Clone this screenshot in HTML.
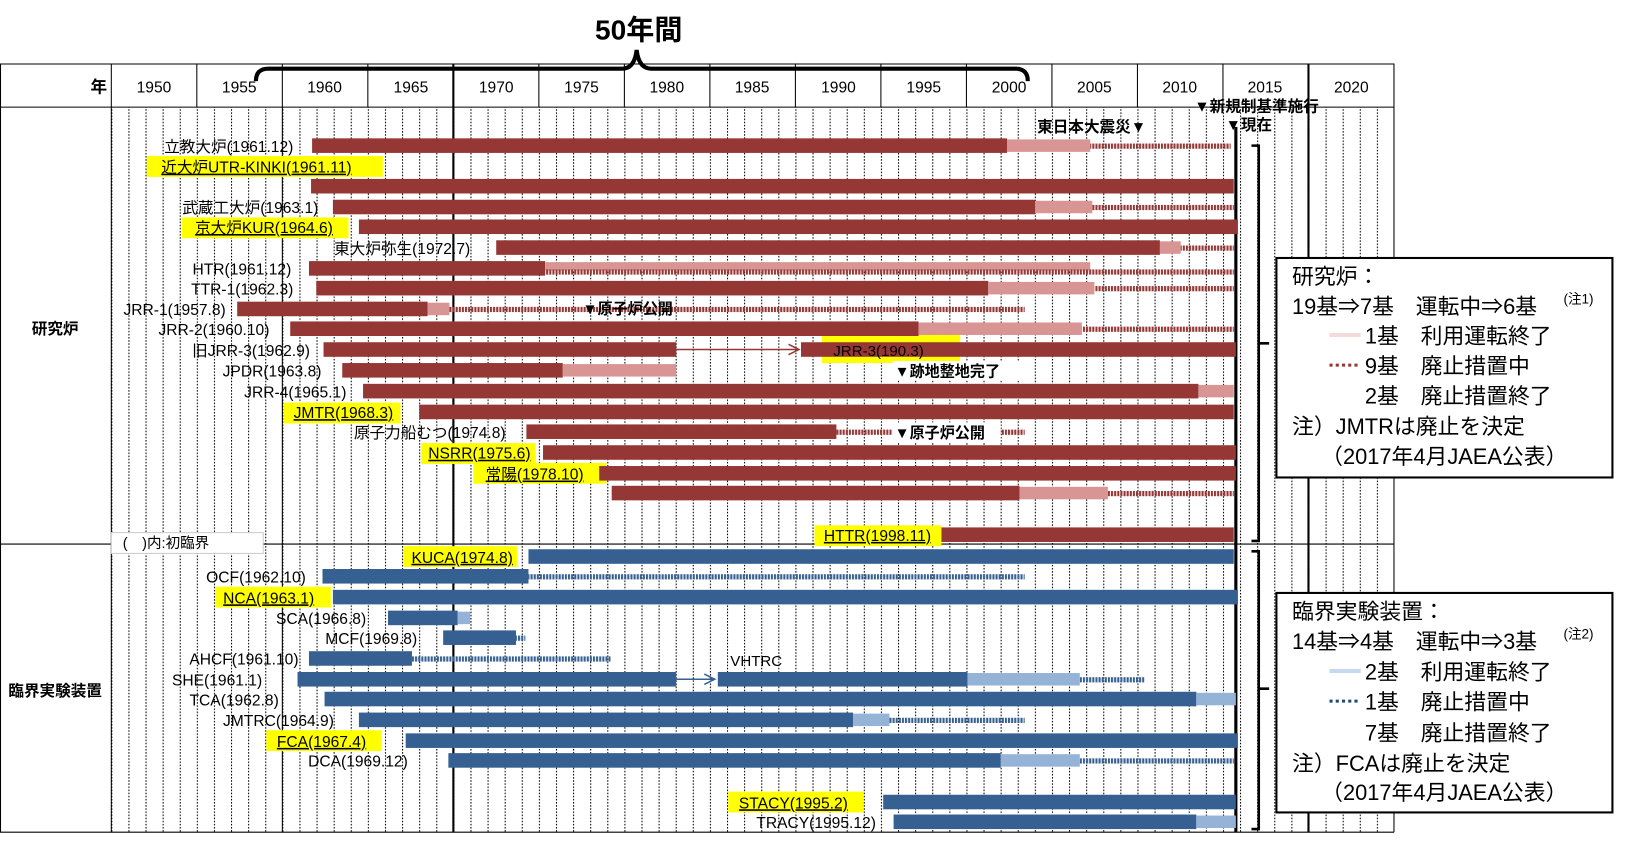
<!DOCTYPE html>
<html><head><meta charset="utf-8"><style>
body{margin:0;background:#fff}
svg{display:block}
text{font-family:"Liberation Sans","Noto Sans CJK JP",sans-serif;fill:#000}
.l{font-size:15px;text-anchor:end}
.y{font-size:15px;text-anchor:middle}
.g{font-size:21px}
</style></head><body>
<svg width="1627" height="853" viewBox="0 0 1564 820" preserveAspectRatio="none" xmlns="http://www.w3.org/2000/svg">
<defs>
<pattern id="grid" patternUnits="userSpaceOnUse" x="107" y="0" width="16.44" height="3"><rect x="0" y="0" width="1" height="1.5" fill="#000"/></pattern>
<pattern id="dr" patternUnits="userSpaceOnUse" x="0" y="0" width="3" height="10"><rect x="0" y="0" width="2" height="10" fill="#953735"/></pattern>
<pattern id="db" patternUnits="userSpaceOnUse" x="0" y="0" width="3" height="10"><rect x="0" y="0" width="2" height="10" fill="#376092"/></pattern>
</defs>
<text x="614" y="38" font-size="27" font-weight="bold" text-anchor="middle">50年間</text>
<path d="M246,78 Q246,66 258,66 L598,66 Q610,66 612,48 Q614,66 626,66 L976,66 Q988,66 988,78" fill="none" stroke="#000" stroke-width="4"/>
<rect x="107" y="103" width="1233" height="697" fill="url(#grid)"/>
<g stroke="#000" stroke-width="1">
<line x1="189.2" y1="61" x2="189.2" y2="103"/><line x1="271.4" y1="61" x2="271.4" y2="800"/><line x1="353.6" y1="61" x2="353.6" y2="103"/>
<line x1="518" y1="61" x2="518" y2="103"/><line x1="600.2" y1="61" x2="600.2" y2="103"/><line x1="682.4" y1="61" x2="682.4" y2="103"/>
<line x1="764.6" y1="61" x2="764.6" y2="103"/><line x1="846.8" y1="61" x2="846.8" y2="103"/><line x1="929" y1="61" x2="929" y2="103"/>
<line x1="1011.2" y1="61" x2="1011.2" y2="103"/><line x1="1093.4" y1="61" x2="1093.4" y2="103"/><line x1="1175.6" y1="61" x2="1175.6" y2="103"/>
<line x1="0.5" y1="61" x2="0.5" y2="800"/><line x1="107" y1="61" x2="107" y2="800"/><line x1="1340" y1="61" x2="1340" y2="800"/>
<line x1="0" y1="61.5" x2="1340" y2="61.5"/><line x1="0" y1="103" x2="1340" y2="103"/><line x1="0" y1="523" x2="1340" y2="523"/><line x1="0" y1="800" x2="1340" y2="800"/>
</g>
<line x1="435.8" y1="61" x2="435.8" y2="800" stroke="#000" stroke-width="2"/>
<line x1="1257.8" y1="61" x2="1257.8" y2="800" stroke="#000" stroke-width="2"/>
<text x="103" y="89" font-size="16" font-weight="bold" text-anchor="end">年</text>
<text class="y" x="148" y="89">1950</text><text class="y" x="230" y="89">1955</text><text class="y" x="312" y="89">1960</text><text class="y" x="395" y="89">1965</text><text class="y" x="477" y="89">1970</text><text class="y" x="559" y="89">1975</text><text class="y" x="641" y="89">1980</text><text class="y" x="723" y="89">1985</text><text class="y" x="806" y="89">1990</text><text class="y" x="888" y="89">1995</text><text class="y" x="970" y="89">2000</text><text class="y" x="1052" y="89">2005</text><text class="y" x="1134" y="89">2010</text><text class="y" x="1216" y="89">2015</text><text class="y" x="1299" y="89">2020</text>
<text x="53" y="321" font-size="15" font-weight="bold" text-anchor="middle">研究炉</text>
<text x="53" y="669" font-size="15" font-weight="bold" text-anchor="middle">臨界実験装置</text>
<text x="1148" y="107" font-size="15" font-weight="bold">▼新規制基準施行</text>
<text x="1178" y="125" font-size="15" font-weight="bold">▼現在</text>
<text x="997" y="127" font-size="15" font-weight="bold">東日本大震災▼</text>
<line x1="1188" y1="122" x2="1188" y2="800" stroke="#000" stroke-width="3"/>
<g fill="#ffff00">
<rect x="141" y="150" width="227" height="20"/><rect x="175" y="209" width="160" height="20"/><rect x="273" y="387" width="112" height="20"/>
<rect x="405" y="426" width="110" height="20"/><rect x="455" y="445" width="128" height="20"/><rect x="783" y="505" width="122" height="20"/>
<rect x="790" y="322" width="133" height="27"/>
<rect x="388" y="525" width="109" height="20"/><rect x="207" y="564" width="111" height="20"/><rect x="256" y="702" width="111" height="20"/><rect x="700" y="761" width="130" height="20"/>
</g>
<rect x="107" y="512" width="146" height="20" fill="#fff" stroke="#ccc"/>
<text x="118" y="527" font-size="14">(　)内:初臨界</text>
<g fill="#953735">
<rect x="300" y="133" width="668" height="14"/><rect x="299" y="172" width="887" height="14"/><rect x="320" y="192" width="675" height="14"/>
<rect x="345" y="211" width="845" height="14"/><rect x="477" y="231" width="638" height="14"/><rect x="297" y="251" width="227" height="14"/>
<rect x="304" y="270" width="646" height="14"/><rect x="228" y="290" width="183" height="14"/><rect x="279" y="309" width="604" height="14"/>
<rect x="311" y="329" width="339" height="14"/><rect x="770" y="329" width="418" height="14"/><rect x="329" y="349" width="212" height="14"/>
<rect x="349" y="369" width="803" height="14"/><rect x="403" y="389" width="783" height="14"/><rect x="506" y="408" width="298" height="14"/>
<rect x="522" y="428" width="666" height="14"/><rect x="576" y="448" width="612" height="14"/><rect x="588" y="467" width="392" height="14"/>
<rect x="905" y="507" width="281" height="14"/>
</g>
<g fill="#d99594">
<rect x="968" y="134" width="80" height="12"/><rect x="995" y="193" width="55" height="12"/><rect x="1115" y="232" width="20" height="12"/>
<rect x="524" y="252" width="524" height="8"/><rect x="950" y="271" width="102" height="12"/><rect x="411" y="291" width="21" height="12"/>
<rect x="883" y="310" width="157" height="12"/><rect x="541" y="350" width="109" height="12"/><rect x="1152" y="370" width="34" height="12"/>
<rect x="980" y="468" width="85" height="12"/>
</g>
<g fill="url(#dr)">
<rect x="1048" y="138" width="135" height="5"/><rect x="1050" y="197" width="136" height="5"/><rect x="1135" y="236" width="51" height="5"/>
<rect x="524" y="259" width="662" height="5"/><rect x="1052" y="275" width="134" height="5"/><rect x="432" y="295" width="553" height="5"/>
<rect x="1040" y="314" width="146" height="5"/><rect x="804" y="413" width="181" height="5"/><rect x="1065" y="472" width="121" height="5"/>
</g>
<line x1="650" y1="336" x2="768" y2="336" stroke="#953735" stroke-width="1.5"/><path d="M758,331 L768,336 L758,341" fill="none" stroke="#953735" stroke-width="1.5"/>
<text x="801" y="342" font-size="14.5" fill="#333">JRR-3(190.3)</text>
<rect x="858" y="347" width="132" height="19" fill="#fff"/>
<text x="860" y="362" font-size="14.5" font-weight="bold">▼跡地整地完了</text>
<text x="560" y="302" font-size="14.5" font-weight="bold">▼原子炉公開</text>
<rect x="858" y="406" width="104" height="19" fill="#fff"/>
<text x="860" y="421" font-size="14.5" font-weight="bold">▼原子炉公開</text>
<g>
<text class="l" x="282" y="146">立教大炉(1961.12)</text>
<text class="l" x="338" y="166" text-decoration="underline">近大炉UTR-KINKI(1961.11)</text>
<text class="l" x="306" y="205">武蔵工大炉(1963.1)</text>
<text class="l" x="320" y="224" text-decoration="underline">京大炉KUR(1964.6)</text>
<text class="l" x="452" y="244">東大炉弥生(1972.7)</text>
<text class="l" x="280" y="264">HTR(1961.12)</text>
<text class="l" x="282" y="283">TTR-1(1962.3)</text>
<text class="l" x="217" y="303">JRR-1(1957.8)</text>
<text class="l" x="259" y="322">JRR-2(1960.10)</text>
<text class="l" x="298" y="342">旧JRR-3(1962.9)</text>
<text class="l" x="309" y="362">JPDR(1963.8)</text>
<text class="l" x="333" y="382">JRR-4(1965.1)</text>
<text class="l" x="378" y="402" text-decoration="underline">JMTR(1968.3)</text>
<text class="l" x="486" y="421">原子力船むつ(1974.8)</text>
<text class="l" x="510" y="441" text-decoration="underline">NSRR(1975.6)</text>
<text class="l" x="561" y="461" text-decoration="underline">常陽(1978.10)</text>
<text class="l" x="895" y="520" text-decoration="underline">HTTR(1998.11)</text>
</g>
<g fill="#376092">
<rect x="508" y="528" width="678" height="14"/><rect x="310" y="547" width="198" height="14"/><rect x="320" y="567" width="870" height="14"/>
<rect x="373" y="587" width="67" height="14"/><rect x="426" y="606" width="70" height="14"/><rect x="297" y="626" width="99" height="14"/>
<rect x="286" y="646" width="364" height="14"/><rect x="690" y="646" width="240" height="14"/><rect x="312" y="665" width="838" height="14"/>
<rect x="345" y="685" width="475" height="14"/><rect x="390" y="705" width="800" height="14"/><rect x="431" y="724" width="531" height="14"/>
<rect x="849" y="764" width="339" height="14"/><rect x="859" y="783" width="291" height="14"/>
</g>
<g fill="#95b3d7">
<rect x="440" y="588" width="12" height="12"/><rect x="930" y="647" width="108" height="12"/><rect x="1150" y="666" width="38" height="12"/>
<rect x="820" y="686" width="35" height="12"/><rect x="962" y="725" width="76" height="12"/><rect x="1150" y="784" width="38" height="12"/>
</g>
<g fill="url(#db)">
<rect x="508" y="552" width="477" height="5"/><rect x="496" y="611" width="9" height="5"/><rect x="396" y="631" width="191" height="5"/>
<rect x="1038" y="651" width="62" height="5"/><rect x="855" y="690" width="130" height="5"/><rect x="1038" y="729" width="148" height="5"/>
</g>
<line x1="650" y1="653" x2="686" y2="653" stroke="#376092" stroke-width="1.5"/><path d="M677,648 L687,653 L677,658" fill="none" stroke="#376092" stroke-width="1.5"/>
<text x="702" y="640" font-size="14.5">VHTRC</text>
<g>
<text class="l" x="493" y="541" text-decoration="underline">KUCA(1974.8)</text>
<text class="l" x="294" y="560">OCF(1962.10)</text>
<text class="l" x="302" y="580" text-decoration="underline">NCA(1963.1)</text>
<text class="l" x="352" y="600">SCA(1966.8)</text>
<text class="l" x="401" y="619">MCF(1969.8)</text>
<text class="l" x="287" y="639">AHCF(1961.10)</text>
<text class="l" x="252" y="659">SHE(1961.1)</text>
<text class="l" x="268" y="678">TCA(1962.8)</text>
<text class="l" x="321" y="698">JMTRC(1964.9)</text>
<text class="l" x="352" y="718" text-decoration="underline">FCA(1967.4)</text>
<text class="l" x="392" y="737">DCA(1969.12)</text>
<text class="l" x="815" y="777" text-decoration="underline">STACY(1995.2)</text>
<text class="l" x="842" y="796">TRACY(1995.12)</text>
</g>
<path d="M1203,140 L1210,140 L1210,520 L1203,520 M1210,330 L1220,330" fill="none" stroke="#000" stroke-width="2.5"/>
<path d="M1203,530 L1210,530 L1210,797 L1203,797 M1210,662 L1220,662" fill="none" stroke="#000" stroke-width="2.5"/>
<rect x="1227" y="248" width="323" height="211" fill="#fff" stroke="#000" stroke-width="2"/>
<text class="g" x="1242" y="273">研究炉：</text>
<text class="g" x="1242" y="302">19基⇒7基　運転中⇒6基</text><text x="1503" y="292" font-size="13">(注1)</text>
<line x1="1278" y1="322" x2="1308" y2="322" stroke="#f2dcdb" stroke-width="4"/><text class="g" x="1312" y="330">1基　利用運転終了</text>
<line x1="1278" y1="351" x2="1308" y2="351" stroke="#953735" stroke-width="3" stroke-dasharray="3,3"/><text class="g" x="1312" y="359">9基　廃止措置中</text>
<text class="g" x="1312" y="388">2基　廃止措置終了</text>
<text class="g" x="1242" y="417">注）JMTRは廃止を決定</text>
<text class="g" x="1270" y="446">（2017年4月JAEA公表）</text>
<rect x="1227" y="570" width="323" height="211" fill="#fff" stroke="#000" stroke-width="2"/>
<text class="g" x="1242" y="595">臨界実験装置：</text>
<text class="g" x="1242" y="624">14基⇒4基　運転中⇒3基</text><text x="1503" y="614" font-size="13">(注2)</text>
<line x1="1278" y1="645" x2="1308" y2="645" stroke="#c6d9f1" stroke-width="4"/><text class="g" x="1312" y="653">2基　利用運転終了</text>
<line x1="1278" y1="674" x2="1308" y2="674" stroke="#1f497d" stroke-width="3" stroke-dasharray="3,3"/><text class="g" x="1312" y="682">1基　廃止措置中</text>
<text class="g" x="1312" y="712">7基　廃止措置終了</text>
<text class="g" x="1242" y="741">注）FCAは廃止を決定</text>
<text class="g" x="1270" y="769">（2017年4月JAEA公表）</text>
</svg>
</body></html>
